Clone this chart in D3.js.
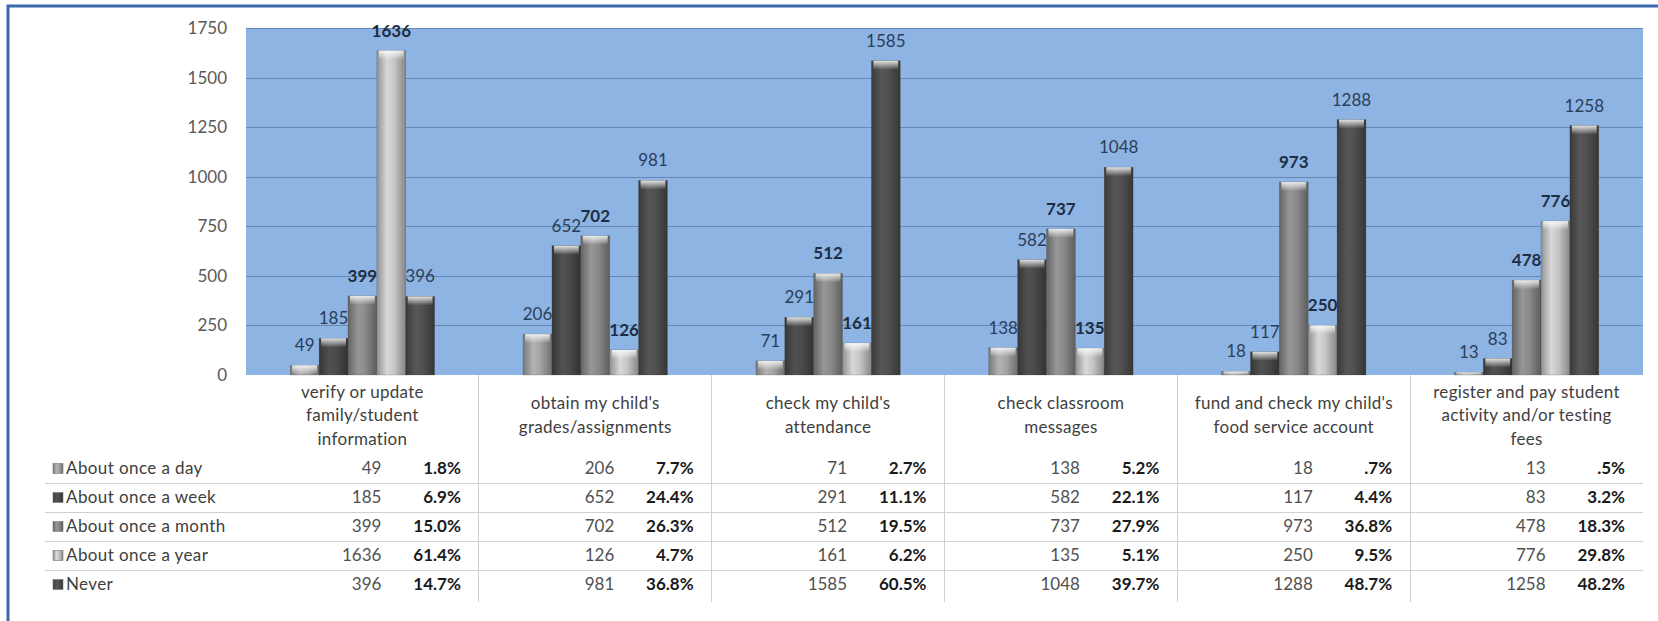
<!DOCTYPE html>
<html>
<head>
    <meta charset="utf-8">
    <title>Parent portal use</title>
    <script src="https://cdnjs.cloudflare.com/ajax/libs/d3/7.8.5/d3.min.js"></script>
</head>
<style media="screen">
    body { margin: 0; background: #fff; }
    svg text { font-family: Lato, "Open Sans", sans-serif; }
    .axis path { display: none; }
    .axis line { stroke: #6788b4; stroke-width: 1; shape-rendering: crispEdges; }
    .axis text { fill: #595959; font-size: 17px; }
    .barlabel { font-size: 17px; fill: #2c3e5a; text-anchor: middle; }
    .barlabel.bold { font-weight: bold; fill: #1f2d44; }
    .head { font-size: 17px; fill: #404040; text-anchor: middle; letter-spacing: 0.3px; }
    .rowname { font-size: 17px; fill: #404040; letter-spacing: 0.4px; }
    .cnt { font-size: 17px; fill: #505050; text-anchor: end; }
    .pct { font-size: 17px; fill: #1a1a1a; font-weight: bold; text-anchor: end; }
    .grid-h, .grid-v { stroke: #d0d0d0; stroke-width: 1; shape-rendering: crispEdges; }
</style>

<body>
    <script>
        var categories = [
            "verify or update family/student information",
            "obtain my child's grades/assignments",
            "check my child's attendance",
            "check classroom messages",
            "fund and check my child's food service account",
            "register and pay student activity and/or testing fees"
        ];
        var categoryLines = [
            ["verify or update", "family/student", "information"],
            ["obtain my child's", "grades/assignments"],
            ["check my child's", "attendance"],
            ["check classroom", "messages"],
            ["fund and check my child's", "food service account"],
            ["register and pay student", "activity and/or testing", "fees"]
        ];
        var seriesNames = ["About once a day", "About once a week", "About once a month", "About once a year", "Never"];

        var dayCounts = [49, 206, 71, 138, 18, 13];
        var weekCounts = [185, 652, 291, 582, 117, 83];
        var monthCounts = [399, 702, 512, 737, 973, 478];
        var yearCounts = [1636, 126, 161, 135, 250, 776];
        var neverCounts = [396, 981, 1585, 1048, 1288, 1258];

        var dayPct = ["1.8%", "7.7%", "2.7%", "5.2%", ".7%", ".5%"];
        var weekPct = ["6.9%", "24.4%", "11.1%", "22.1%", "4.4%", "3.2%"];
        var monthPct = ["15.0%", "26.3%", "19.5%", "27.9%", "36.8%", "18.3%"];
        var yearPct = ["61.4%", "4.7%", "6.2%", "5.1%", "9.5%", "29.8%"];
        var neverPct = ["14.7%", "36.8%", "60.5%", "39.7%", "48.7%", "48.2%"];

        var yTicks = [0, 250, 500, 750, 1000, 1250, 1500, 1750];

        var counts = [dayCounts, weekCounts, monthCounts, yearCounts, neverCounts];
        var pcts = [dayPct, weekPct, monthPct, yearPct, neverPct];
        var boldSeries = [false, false, true, true, false];
        // grey shades of the 3d bars
        var baseColors = ["#a4a4a4", "#4a4a4a", "#8a8a8a", "#c6c6c6", "#505050"];

        var W = 1658, H = 621;
        var plotL = 246, plotR = 1643, plotT = 28, plotB = 375;

        var svg = d3.select("body").append("svg")
            .attr("width", W)
            .attr("height", H);

        var defs = svg.append("defs");
        baseColors.forEach(function(c, i) {
            var col = d3.color(c);
            var g = defs.append("linearGradient")
                .attr("id", "bar" + i)
                .attr("x1", 0).attr("x2", 1).attr("y1", 0).attr("y2", 0);
            g.append("stop").attr("offset", "0%").attr("stop-color", col.darker(0.9));
            g.append("stop").attr("offset", "35%").attr("stop-color", col.brighter(0.25));
            g.append("stop").attr("offset", "60%").attr("stop-color", col);
            g.append("stop").attr("offset", "100%").attr("stop-color", col.darker(1.1));
        });
        var cap = defs.append("linearGradient")
            .attr("id", "cap")
            .attr("x1", 0).attr("x2", 0).attr("y1", 0).attr("y2", 1);
        cap.append("stop").attr("offset", "0%").attr("stop-color", "#ffffff").attr("stop-opacity", 0.85);
        cap.append("stop").attr("offset", "100%").attr("stop-color", "#ffffff").attr("stop-opacity", 0);

        // outer frame
        svg.append("rect")
            .attr("x", 8).attr("y", 6)
            .attr("width", W).attr("height", H)
            .attr("fill", "#fff")
            .attr("stroke", "#3a69b0")
            .attr("stroke-width", 3);

        var x0 = d3.scaleBand()
            .domain(categories)
            .range([plotL, plotR])
            .paddingInner(0.38)
            .paddingOuter(0.19);

        var x1 = d3.scaleBand()
            .domain(seriesNames)
            .range([0, x0.bandwidth()]);

        var y = d3.scaleLinear()
            .domain([0, 1750])
            .range([plotB, plotT]);

        // plot area
        svg.append("rect")
            .attr("x", plotL).attr("y", plotT)
            .attr("width", plotR - plotL).attr("height", plotB - plotT)
            .attr("fill", "#8db4e2");

        svg.append("g")
            .attr("class", "axis")
            .attr("transform", "translate(" + plotL + ",0)")
            .call(d3.axisLeft(y).tickValues(yTicks).tickFormat(d3.format("d"))
                .tickSize(-(plotR - plotL)).tickPadding(19));
        svg.selectAll(".axis .tick line").filter(function(d) { return d === 0; }).remove();

        var groups = svg.selectAll("g.cat")
            .data(categories)
            .enter().append("g")
            .attr("class", "cat")
            .attr("transform", function(d) { return "translate(" + x0(d) + ",0)"; });

        var bars = groups.selectAll("g.bar")
            .data(function(d, ci) {
                return seriesNames.map(function(s, si) {
                    return { series: s, si: si, value: counts[si][ci] };
                });
            })
            .enter().append("g")
            .attr("class", "bar");

        bars.append("rect")
            .attr("x", function(d) { return x1(d.series); })
            .attr("y", function(d) { return y(d.value); })
            .attr("width", x1.bandwidth())
            .attr("height", function(d) { return plotB - y(d.value); })
            .attr("fill", function(d) { return "url(#bar" + d.si + ")"; })
            .attr("stroke", "#3a3a3a")
            .attr("stroke-opacity", 0.35)
            .attr("stroke-width", 0.6);

        bars.append("rect")
            .attr("x", function(d) { return x1(d.series) + 2; })
            .attr("y", function(d) { return y(d.value); })
            .attr("width", x1.bandwidth() - 4)
            .attr("height", function(d) { return Math.min(9, plotB - y(d.value)); })
            .attr("fill", "url(#cap)");

        bars.append("text")
            .attr("class", function(d) { return boldSeries[d.si] ? "barlabel bold" : "barlabel"; })
            .attr("x", function(d) { return x1(d.series) + x1.bandwidth() / 2; })
            .attr("y", function(d) { return y(d.value) - 14; })
            .text(function(d) { return d.value; });

        // data table under the plot
        var rowTop = 454, rowH = 29;
        var rowY = function(i) { return rowTop + rowH * i + rowH / 2; };

        svg.selectAll("line.grid-v")
            .data(categories.slice(1))
            .enter().append("line")
            .attr("class", "grid-v")
            .attr("x1", function(d) { return x0(d) - x0.step() * x0.paddingInner() / 2; })
            .attr("x2", function(d) { return x0(d) - x0.step() * x0.paddingInner() / 2; })
            .attr("y1", plotB)
            .attr("y2", rowTop + rowH * 5 + 3);

        svg.selectAll("line.grid-h")
            .data(d3.range(1, 5))
            .enter().append("line")
            .attr("class", "grid-h")
            .attr("x1", 45).attr("x2", plotR)
            .attr("y1", function(i) { return rowTop + rowH * i; })
            .attr("y2", function(i) { return rowTop + rowH * i; });

        var headG = svg.selectAll("text.head")
            .data(categoryLines)
            .enter().append("text")
            .attr("class", "head")
            .attr("x", function(d, i) { return x0(categories[i]) + x0.bandwidth() / 2; })
            .attr("y", function(d) { return 421 - (d.length - 1) * 11.75; });
        headG.selectAll("tspan")
            .data(function(d) { return d; })
            .enter().append("tspan")
            .attr("x", function() { return d3.select(this.parentNode).attr("x"); })
            .attr("dy", function(d, i) { return i === 0 ? 0 : 23.5; })
            .text(function(d) { return d; });

        var rows = svg.selectAll("g.row")
            .data(seriesNames)
            .enter().append("g")
            .attr("class", "row")
            .attr("transform", function(d, i) { return "translate(0," + rowY(i) + ")"; });

        rows.append("rect")
            .attr("x", 53).attr("y", -5)
            .attr("width", 10).attr("height", 10)
            .attr("fill", function(d, i) { return "url(#bar" + i + ")"; })
            .attr("stroke", "#777")
            .attr("stroke-width", 0.6);

        rows.append("text")
            .attr("class", "rowname")
            .attr("x", 66).attr("dy", "0.35em")
            .text(function(d) { return d; });

        rows.each(function(s, si) {
            var r = d3.select(this);
            categories.forEach(function(c, ci) {
                var cx = x0(c) + x0.bandwidth() / 2;
                var colRight = x0(c) + x0.bandwidth() + x0.step() * x0.paddingInner() / 2;
                r.append("text")
                    .attr("class", "cnt")
                    .attr("x", cx + 19).attr("dy", "0.35em")
                    .text(counts[si][ci]);
                r.append("text")
                    .attr("class", "pct")
                    .attr("x", colRight - 18).attr("dy", "0.35em")
                    .text(pcts[si][ci]);
            });
        });
    </script>
</body>

</html>
